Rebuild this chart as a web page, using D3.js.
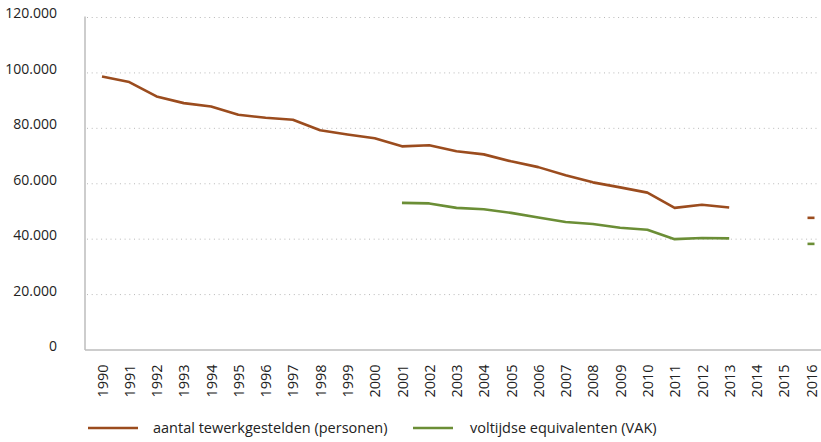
<!DOCTYPE html>
<html>
<head>
<meta charset="utf-8">
<script src="https://cdn.jsdelivr.net/npm/d3@7"></script>
<style>
	body { margin: 0; background: #fff; }
	svg text { font-family: "Open Sans", "Noto Sans", sans-serif; fill: #222; }
</style>
</head>
<body>
<svg id="chart" width="821" height="442"></svg>
<script>
// years on the x axis
var years = [1990, 1991, 1992, 1993, 1994, 1995, 1996, 1997, 1998, 1999, 2000, 2001, 2002,
	2003, 2004, 2005, 2006, 2007, 2008, 2009, 2010, 2011, 2012, 2013, 2014, 2015, 2016];

// aantal tewerkgestelden (personen), null = no value
var persons = [98700, 96700, 91500, 89100, 87900, 84900, 83800, 83100, 79300, 77800, 76400,
	73500, 73900, 71700, 70600, 68100, 66000, 63100, 60500, 58700, 56800, 51300, 52400, 51400,
	null, null, 47700];

// voltijdse equivalenten (VAK)
var fte = [null, null, null, null, null, null, null, null, null, null, null,
	53100, 52900, 51300, 50800, 49500, 47800, 46200, 45500, 44100, 43400, 40000, 40400, 40300,
	null, null, 38300];

var yTicks = [0, 20000, 40000, 60000, 80000, 100000, 120000];
var seriesNames = ["aantal tewerkgestelden (personen)", "voltijdse equivalenten (VAK)"];
var seriesColors = ["#9b4c1e", "#6b8e36"];

var svg = d3.select("#chart");
var plotLeft = 85, plotRight = 821, plotTop = 17.5, plotBottom = 350;

var x = d3.scalePoint().domain(years).range([102, 811]);
var y = d3.scaleLinear().domain([0, 120000]).range([plotBottom, plotTop]);

var fmt = function (v) {
	return d3.format(",")(v).replace(/,/g, ".");
};

// gridlines
svg.append("g")
	.selectAll("line")
	.data(yTicks.filter(function (d) { return d > 0; }))
	.enter().append("line")
	.attr("x1", plotLeft + 2).attr("x2", 818)
	.attr("y1", function (d) { return y(d); })
	.attr("y2", function (d) { return y(d); })
	.attr("stroke", "#b8b8b8")
	.attr("stroke-width", 1)
	.attr("stroke-dasharray", "1,3.7");

// y axis labels
var yAxis = d3.axisLeft(y).tickValues(yTicks).tickFormat(fmt).tickSize(0).tickPadding(0);
var yg = svg.append("g").attr("transform", "translate(57,-4)").call(yAxis);
yg.select(".domain").remove();
yg.selectAll("text")
	.style("font-size", "14px")
	.style("font-family", "'Open Sans', sans-serif")
	.attr("fill", "#222");

// axis lines
svg.append("line")
	.attr("x1", plotLeft).attr("x2", plotLeft)
	.attr("y1", plotTop - 1).attr("y2", plotBottom)
	.attr("stroke", "#bdbdbd").attr("stroke-width", 1.5);
svg.append("line")
	.attr("x1", plotLeft).attr("x2", plotRight)
	.attr("y1", plotBottom).attr("y2", plotBottom)
	.attr("stroke", "#bdbdbd").attr("stroke-width", 1.5);

// x axis labels
var xAxis = d3.axisBottom(x).tickSize(0).tickPadding(0);
var xg = svg.append("g").attr("transform", "translate(0," + plotBottom + ")").call(xAxis);
xg.select(".domain").remove();
xg.selectAll("text")
	.attr("transform", "translate(0,31) rotate(-90)")
	.attr("x", 0).attr("y", 0).attr("dy", "0.35em")
	.style("text-anchor", "middle")
	.style("font-size", "14.5px")
	.style("font-family", "'Open Sans', sans-serif")
	.attr("fill", "#222");

// lines
var line = d3.line()
	.defined(function (d) { return d.v != null; })
	.x(function (d) { return x(d.year); })
	.y(function (d) { return y(d.v); });

[persons, fte].forEach(function (values, i) {
	var pts = years.map(function (yr, k) { return { year: yr, v: values[k] }; });
	// connected part up to 2013
	var main = pts.filter(function (d) { return d.year <= 2013; });
	svg.append("path")
		.datum(main)
		.attr("d", line)
		.attr("fill", "none")
		.attr("stroke", seriesColors[i])
		.attr("stroke-width", 2.6)
		.attr("stroke-linejoin", "round");
	// isolated 2016 value as dash marker
	var last = pts[pts.length - 1];
	svg.append("line")
		.attr("x1", x(last.year) - 3.5).attr("x2", x(last.year) + 3.5)
		.attr("y1", y(last.v)).attr("y2", y(last.v))
		.attr("stroke", seriesColors[i])
		.attr("stroke-width", 2.6);
});

// legend
var legendX = [88, 413];
var legend = svg.append("g");
seriesNames.forEach(function (name, i) {
	legend.append("line")
		.attr("x1", legendX[i]).attr("x2", legendX[i] + (i === 0 ? 50 : 40))
		.attr("y1", 428).attr("y2", 428)
		.attr("stroke", seriesColors[i])
		.attr("stroke-width", 2.6);
	legend.append("text")
		.attr("x", legendX[i] + (i === 0 ? 65 : 57))
		.attr("y", 428)
		.attr("dy", "0.35em")
		.style("font-size", "14.5px")
		.text(name);
});
</script>
</body>
</html>
